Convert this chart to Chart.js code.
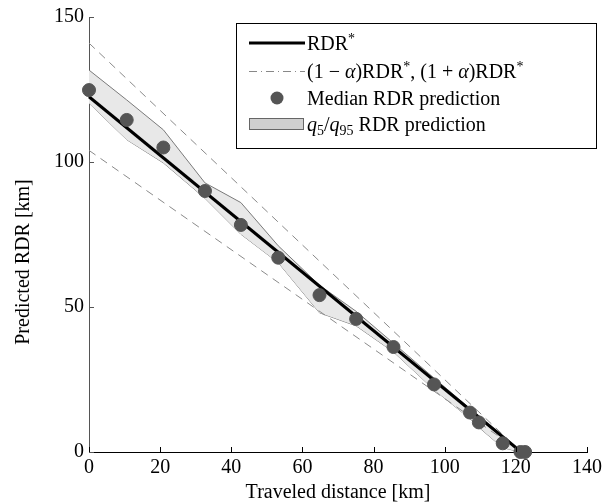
<!DOCTYPE html>
<html>
<head>
<meta charset="utf-8">
<script src="https://cdn.jsdelivr.net/npm/chart.js@4/dist/chart.umd.min.js"></script>
<style>
  html, body { margin: 0; padding: 0; background: #fff; }
  #wrap { width: 616px; height: 503px; position: relative; }
</style>
</head>
<body>
<div id="wrap"><canvas id="rdrChart"></canvas></div>
<script>
// values
const refX = [0, 121.5];
const refRDR = [122.5, 0];
const refUpper = [141, 0];   // (1 + alpha) RDR*
const refLower = [104, 0];   // (1 - alpha) RDR*

const travelled = [0, 10.6, 20.9, 32.6, 42.7, 53.2, 64.8, 75.1, 85.6, 97.0, 107.1, 109.6, 116.3, 121.3, 122.6];
const medianRDR = [124.8, 114.5, 105, 90, 78.3, 67, 54.1, 45.9, 36.2, 23.3, 13.6, 10.2, 3, 0, 0];
const q95RDR    = [131.7, 121.4, 111.1, 92.8, 86, 71.1, 57.5, 48.5, 37.5, 25.5, 15, 11.5, 5, 0.3, 0];
const q5RDR     = [120.3, 107.7, 99.7, 87.5, 75.1, 65.3, 48, 43.5, 34.5, 21.5, 11.5, 8.5, 1.5, 0, 0];

const xTicks = [0, 20, 40, 60, 80, 100, 120, 140];
const yTicks = [0, 50, 100, 150];

const legendLabels = ['RDR*', '(1 \u2212 \u03b1)RDR*, (1 + \u03b1)RDR*', 'Median RDR prediction', 'q5/q95 RDR prediction'];
const yTitle = 'Predicted RDR [km]';

const serif = '"Liberation Serif", "DejaVu Serif", serif';

function pts(xs, ys) {
    return xs.map(function(x, i) { return {x: x, y: ys[i]}; });
}

// ticks point inward, like the original figure
const innerTicks = {
    id: 'innerTicks',
    afterDatasetsDraw(chart) {
        const ctx = chart.ctx;
        const xs = chart.scales.x, ys = chart.scales.y;
        ctx.save();
        ctx.lineWidth = 1;
        ctx.strokeStyle = '#000';
        xTicks.forEach(function(v) {
            const px = Math.round(xs.getPixelForValue(v)) + 0.5;
            ctx.beginPath();
            ctx.moveTo(px, ys.bottom);
            ctx.lineTo(px, ys.bottom - 5);
            ctx.stroke();
        });
        ctx.strokeStyle = '#555';
        yTicks.forEach(function(v) {
            const py = Math.round(ys.getPixelForValue(v)) + 0.5;
            ctx.beginPath();
            ctx.moveTo(xs.left, py);
            ctx.lineTo(xs.left + 5, py);
            ctx.stroke();
        });
        // y label sits a little below the middle of the axis in the original
        ctx.translate(23.5, 262);
        ctx.rotate(-Math.PI / 2);
        ctx.fillStyle = '#000';
        ctx.font = '20px ' + serif;
        ctx.textAlign = 'center';
        ctx.textBaseline = 'middle';
        ctx.fillText(yTitle, 0, 0);
        ctx.restore();
    }
};

function drawRuns(ctx, x, y, runs) {
    runs.forEach(function(r) {
        ctx.font = r.f;
        ctx.fillText(r.t, x, y + (r.dy || 0));
        x += ctx.measureText(r.t).width;
    });
}

const boxLegend = {
    id: 'boxLegend',
    afterDraw(chart) {
        const ctx = chart.ctx;
        const reg = '20px ' + serif, it = 'italic 20px ' + serif, sm = '14px ' + serif;
        ctx.save();
        ctx.fillStyle = '#fff';
        ctx.fillRect(236, 23, 360, 125);
        ctx.strokeStyle = '#000';
        ctx.lineWidth = 1;
        ctx.strokeRect(236.5, 23.5, 360, 125);

        const sx0 = 249, sx1 = 305, tx = 307;
        const rows = [43, 71, 98, 124];

        // RDR*
        ctx.strokeStyle = '#000';
        ctx.lineWidth = 3;
        ctx.beginPath(); ctx.moveTo(sx0, rows[0]); ctx.lineTo(sx1, rows[0]); ctx.stroke();
        // alpha band lines
        ctx.strokeStyle = '#888';
        ctx.lineWidth = 1;
        ctx.setLineDash([8, 4, 1, 4]);
        ctx.beginPath(); ctx.moveTo(sx0, rows[1] + 0.5); ctx.lineTo(sx1, rows[1] + 0.5); ctx.stroke();
        ctx.setLineDash([]);
        // median marker
        ctx.fillStyle = '#555';
        ctx.beginPath(); ctx.arc(277, rows[2], 6.5, 0, Math.PI * 2); ctx.fill();
        // quantile patch
        ctx.fillStyle = '#d0d0d0';
        ctx.strokeStyle = '#666';
        ctx.fillRect(249.5, 118.5, 54, 11);
        ctx.strokeRect(249.5, 118.5, 54, 11);

        ctx.fillStyle = '#000';
        ctx.textBaseline = 'alphabetic';
        const b = 7;
        drawRuns(ctx, tx, rows[0] + b, [{t: 'RDR', f: reg}, {t: '*', f: sm, dy: -7}]);
        drawRuns(ctx, tx, rows[1] + b, [
            {t: '(1 \u2212 ', f: reg}, {t: '\u03b1', f: it}, {t: ')RDR', f: reg}, {t: '*', f: sm, dy: -7},
            {t: ', (1 + ', f: reg}, {t: '\u03b1', f: it}, {t: ')RDR', f: reg}, {t: '*', f: sm, dy: -7}
        ]);
        drawRuns(ctx, tx, rows[2] + b, [{t: legendLabels[2], f: reg}]);
        drawRuns(ctx, tx, rows[3] + b, [
            {t: 'q', f: it}, {t: '5', f: sm, dy: 4}, {t: '/', f: reg},
            {t: 'q', f: it}, {t: '95', f: sm, dy: 4}, {t: ' RDR prediction', f: reg}
        ]);
        ctx.restore();
    }
};

new Chart(document.getElementById('rdrChart'), {
    type: 'scatter',
    data: {
        datasets: [
            {
                label: legendLabels[2],
                data: pts(travelled, medianRDR),
                backgroundColor: '#555',
                borderColor: '#555',
                pointRadius: 6.5,
                showLine: false,
                clip: false,
                order: 0
            },
            {
                label: legendLabels[0],
                data: pts(refX, refRDR),
                showLine: true,
                borderColor: '#000',
                borderWidth: 3,
                pointRadius: 0,
                clip: false,
                order: 1
            },
            {
                label: '(1+a)RDR*',
                data: pts(refX, refUpper),
                showLine: true,
                borderColor: '#8a8a8a',
                borderWidth: 1,
                borderDash: [8, 6],
                pointRadius: 0,
                clip: false,
                order: 2
            },
            {
                label: '(1-a)RDR*',
                data: pts(refX, refLower),
                showLine: true,
                borderColor: '#8a8a8a',
                borderWidth: 1,
                borderDash: [8, 6],
                pointRadius: 0,
                clip: false,
                order: 2
            },
            {
                label: 'q95',
                data: pts(travelled, q95RDR),
                showLine: true,
                borderColor: '#7a7a7a',
                borderWidth: 1,
                backgroundColor: '#e8e8e8',
                fill: '+1',
                pointRadius: 0,
                clip: false,
                order: 3
            },
            {
                label: 'q5',
                data: pts(travelled, q5RDR),
                showLine: true,
                borderColor: '#7a7a7a',
                borderWidth: 1,
                pointRadius: 0,
                clip: false,
                order: 3
            }
        ]
    },
    options: {
        responsive: true,
        maintainAspectRatio: false,
        animation: false,
        layout: { padding: { left: 0, top: 15, right: 29, bottom: 0 } },
        plugins: {
            legend: { display: false },
            tooltip: { enabled: false }
        },
        scales: {
            x: {
                type: 'linear',
                min: 0,
                max: 140,
                afterFit: function(s) { s.height = 51; },
                afterBuildTicks: function(s) { s.ticks = xTicks.map(function(v) { return {value: v}; }); },
                grid: { display: false, drawTicks: false },
                border: { display: true, color: '#000', width: 1 },
                ticks: { color: '#000', padding: 4, maxRotation: 0, font: { family: serif, size: 20 } },
                title: {
                    display: true,
                    text: 'Traveled distance [km]',
                    color: '#000',
                    padding: { top: 0, bottom: 0 },
                    font: { family: serif, size: 20, lineHeight: 1 }
                }
            },
            y: {
                type: 'linear',
                min: 0,
                max: 150,
                afterFit: function(s) { s.width = 89; },
                afterBuildTicks: function(s) { s.ticks = yTicks.map(function(v) { return {value: v}; }); },
                grid: { display: false, drawTicks: false },
                border: { display: true, color: '#555', width: 1 },
                ticks: { color: '#000', padding: 5, font: { family: serif, size: 20 } },
                title: { display: false }
            }
        }
    },
    plugins: [innerTicks, boxLegend]
});
</script>
</body>
</html>
